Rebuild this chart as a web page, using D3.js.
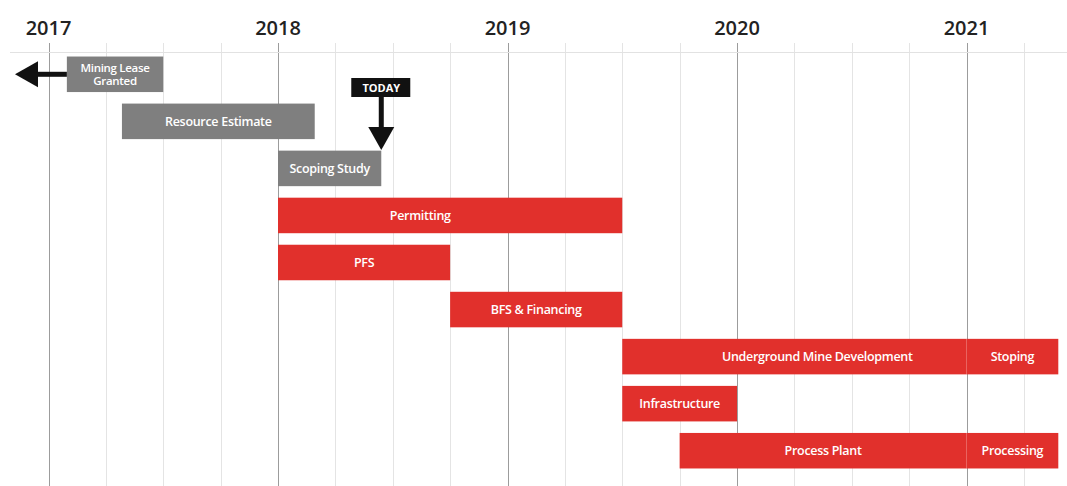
<!DOCTYPE html>
<html lang="en">
<head>
	<meta charset="UTF-8">
	<title>Project timeline</title>
	<script src="https://cdn.jsdelivr.net/npm/d3@7"></script>
	<style>
		body {
			margin: 0;
			background: #fff;
		}

		.year {
			font-family: "Open Sans";
			font-weight: 600;
			font-size: 20px;
			fill: #222;
		}

		.bar-label {
			font-family: "Open Sans";
			font-weight: 600;
			font-size: 12.5px;
			fill: #fff;
			letter-spacing: -0.3px;
		}

		.bar-label.small {
			font-size: 11.5px;
		}

		.today-label {
			font-family: "Open Sans";
			font-weight: 700;
			font-size: 11px;
			fill: #fff;
		}
	</style>
</head>
<body>

<script>
	var taskNames = ["Mining Lease Granted", "Resource Estimate", "Scoping Study", "Permitting", "PFS",
		"BFS & Financing", "Underground Mine Development", "Stoping", "Infrastructure", "Process Plant", "Processing"];
	var taskRows = [0, 1, 2, 3, 4, 5, 6, 6, 7, 8, 8];
	var taskStart = [2017.08, 2017.32, 2018.0, 2018.0, 2018.0, 2018.75, 2019.5, 2021.0, 2019.5, 2019.75, 2021.0];
	var taskEnd = [2017.5, 2018.16, 2018.45, 2019.5, 2018.75, 2019.5, 2021.0, 2021.4, 2020.0, 2021.0, 2021.4];
	var taskDone = [true, true, true, false, false, false, false, false, false, false, false];
	// where the label sits, when it is not in the middle of the bar
	var labelAt = [null, null, null, 2018.62, null, null, 2020.35, null, null, null, null];
	var years = [2017, 2018, 2019, 2020, 2021];
	var today = 2018.45;

	var width = 1067, height = 486;

	var x = d3.scaleLinear()
		.domain([2017, 2021])
		.range([48.5, 966.5]);

	var y = d3.scaleBand()
		.domain(d3.range(9))
		.range([45, 480])
		.padding(0.245);

	var svg = d3.select("body").append("svg")
		.attr("width", width)
		.attr("height", height);

	// grid
	var quarters = d3.range(2017, 2021.3, 0.25);
	svg.append("g")
		.selectAll("line")
		.data(quarters)
		.enter().append("line")
		.attr("x1", function (d) { return Math.round(x(d)) + 0.5; })
		.attr("x2", function (d) { return Math.round(x(d)) + 0.5; })
		.attr("y1", 43)
		.attr("y2", height)
		.attr("stroke", function (d) { return d % 1 === 0 ? "#9c9c9c" : "#e4e4e4"; })
		.attr("stroke-width", 1);

	svg.append("line")
		.attr("x1", 10)
		.attr("x2", width)
		.attr("y1", 52.5)
		.attr("y2", 52.5)
		.attr("stroke", "#e2e2e2");

	svg.append("g")
		.selectAll("text")
		.data(years)
		.enter().append("text")
		.attr("class", "year")
		.attr("x", function (d) { return x(d); })
		.attr("y", 35)
		.attr("text-anchor", "middle")
		.text(function (d) { return d; });

	var tasks = taskNames.map(function (name, i) {
		return {
			name: name, row: taskRows[i], start: taskStart[i], end: taskEnd[i],
			done: taskDone[i], labelAt: labelAt[i]
		};
	});

	var bars = svg.append("g")
		.selectAll("g")
		.data(tasks)
		.enter().append("g");

	bars.append("rect")
		.attr("x", function (d) { return x(d.start); })
		.attr("y", function (d) { return y(d.row); })
		.attr("width", function (d) { return x(d.end) - x(d.start); })
		.attr("height", y.bandwidth())
		.attr("fill", function (d) { return d.done ? "#7f7f7f" : "#e1302c"; });

	bars.append("text")
		.attr("class", function (d) { return d.row === 0 ? "bar-label small" : "bar-label"; })
		.attr("text-anchor", "middle")
		.attr("x", function (d) { return x(d.labelAt !== null ? d.labelAt : (d.start + d.end) / 2); })
		.attr("y", function (d) { return y(d.row) + y.bandwidth() / 2; })
		.each(function (d) {
			var t = d3.select(this);
			var lines = d.name === "Mining Lease Granted" ? ["Mining Lease", "Granted"] : [d.name];
			lines.forEach(function (l, i) {
				t.append("tspan")
					.attr("x", t.attr("x"))
					.attr("dy", i === 0 ? (0.35 - (lines.length - 1) * 0.58) + "em" : "1.16em")
					.text(l);
			});
		});

	// arrow to the left of the lease box
	var ly = y(0) + y.bandwidth() / 2;
	var lx = x(taskStart[0]);
	svg.append("rect")
		.attr("x", 30)
		.attr("y", ly - 2.5)
		.attr("width", lx - 30)
		.attr("height", 5)
		.attr("fill", "#111");
	svg.append("path")
		.attr("d", "M15," + ly + "L38," + (ly - 13) + "L38," + (ly + 13) + "Z")
		.attr("fill", "#111");

	// today marker
	var tx = x(today);
	svg.append("rect")
		.attr("x", tx - 30)
		.attr("y", 78)
		.attr("width", 59)
		.attr("height", 19)
		.attr("fill", "#111");
	svg.append("text")
		.attr("class", "today-label")
		.attr("x", tx)
		.attr("y", 91.5)
		.attr("text-anchor", "middle")
		.text("TODAY");
	svg.append("rect")
		.attr("x", tx - 2.5)
		.attr("y", 96)
		.attr("width", 5)
		.attr("height", 35)
		.attr("fill", "#111");
	svg.append("path")
		.attr("d", "M" + (tx - 13) + ",127L" + (tx + 13) + ",127L" + tx + ",150Z")
		.attr("fill", "#111");
</script>

</body>
</html>
